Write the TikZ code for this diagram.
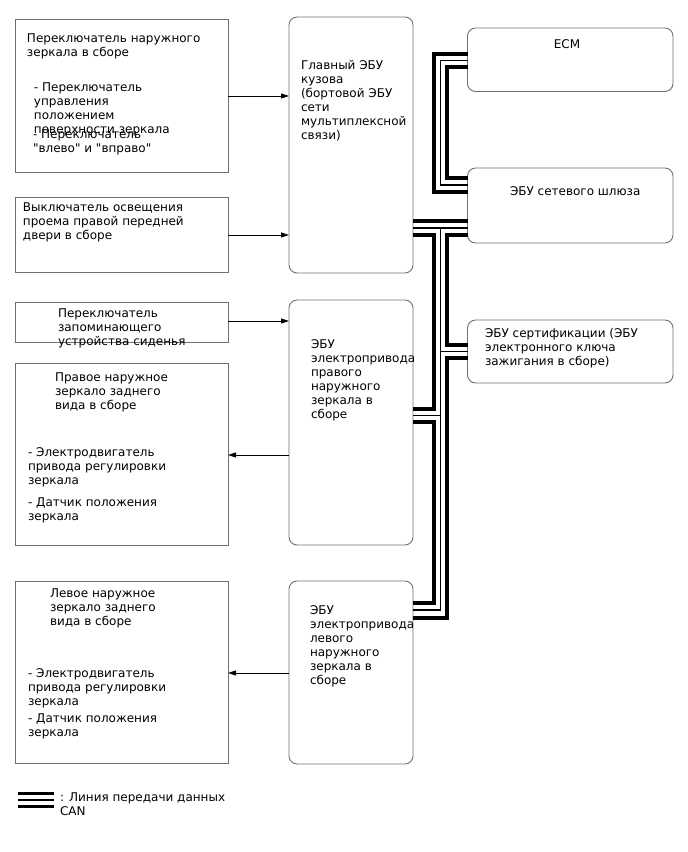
\documentclass[tikz,border=0pt]{standalone}
\usepackage{fontspec}
\setmainfont{DejaVu Sans}
\usetikzlibrary{arrows.meta}
\definecolor{bordergray}{RGB}{112,112,112}
\begin{document}
\begin{tikzpicture}[x=1pt,y=-1pt,
  box/.style={draw=bordergray, line width=0.9pt, inner sep=0pt, outer sep=0pt},
  ecu/.style={box, rounded corners=8pt},
  txt/.style={font=\fontsize{12}{14}\selectfont, align=left, inner sep=0pt, outer sep=0pt, anchor=base west},
  arr/.style={line width=0.8pt, -{Triangle[length=8pt,width=5pt]}},
  canthick/.style={line width=4pt, line join=miter},
  canthin/.style={line width=1.4pt, line join=miter}]
\useasboundingbox (0,0) rectangle (688,852);

% boxes
\node[box, minimum width=213pt, minimum height=153pt] (b1) at (121.5,95.5) {};
\node[box, minimum width=213pt, minimum height=75pt] (b2) at (121.5,234.5) {};
\node[box, minimum width=213pt, minimum height=40pt] (b3) at (121.5,322) {};
\node[box, minimum width=213pt, minimum height=182pt] (b4) at (121.5,454) {};
\node[box, minimum width=213pt, minimum height=182pt] (b5) at (121.5,672) {};
\node[ecu, minimum width=124pt, minimum height=256pt] (main) at (351,145) {};
\node[ecu, minimum width=124pt, minimum height=245pt] (rm) at (351,422.5) {};
\node[ecu, minimum width=124pt, minimum height=183pt] (lm) at (351,672.5) {};
\node[ecu, minimum width=205.5pt, minimum height=63.5pt] (ecm) at (570.25,59.75) {};
\node[ecu, minimum width=205.5pt, minimum height=75pt] (gw) at (570.25,205.5) {};
\node[ecu, minimum width=205.5pt, minimum height=63pt] (cert) at (570.25,351.5) {};

% texts (anchor = baseline of the last line)
\node[txt] (tb1a) at (27,56.5) {Переключатель наружного\\зеркала в сборе};
\node[txt] (tb1b) at (34,133.5) {- Переключатель\\управления\\положением\\поверхности зеркала};
\node[txt] (tb1c) at (33,152.5) {- Переключатель\\\textquotedbl влево\textquotedbl{} и \textquotedbl вправо\textquotedbl};
\node[txt] (tb2) at (23,239.5) {Выключатель освещения\\проема правой передней\\двери в сборе};
\node[txt] (tb3) at (58,345.5) {Переключатель\\запоминающего\\устройства сиденья};
\node[txt] (tb4a) at (55,409.5) {Правое наружное\\зеркало заднего\\вида в сборе};
\node[txt] (tb4b) at (28,484.5) {- Электродвигатель\\привода регулировки\\зеркала};
\node[txt] (tb4c) at (28,520.5) {- Датчик положения\\зеркала};
\node[txt] (tb5a) at (50,625.5) {Левое наружное\\зеркало заднего\\вида в сборе};
\node[txt] (tb5b) at (28,705.5) {- Электродвигатель\\привода регулировки\\зеркала};
\node[txt] (tb5c) at (28,736.5) {- Датчик положения\\зеркала};
\node[txt] (tmain) at (301,139.5) {Главный ЭБУ\\кузова\\(бортовой ЭБУ\\сети\\мультиплексной\\связи)};
\node[txt] (trm) at (311,418.5) {ЭБУ\\электропривода\\правого\\наружного\\зеркала в\\сборе};
\node[txt] (tlm) at (310,684.5) {ЭБУ\\электропривода\\левого\\наружного\\зеркала в\\сборе};
\node[txt, anchor=base] (tecm) at (567,48.5) {ECM};
\node[txt] (tgw) at (510,195.5) {ЭБУ сетевого шлюза};
\node[txt] (tcert) at (485,365.5) {ЭБУ сертификации (ЭБУ\\электронного ключа\\зажигания в сборе)};
\node[txt] (tleg) at (60,815.5) {: Линия передачи данных\\CAN};

% arrows
\draw[arr] (b1.east |- 0,96) -- (main.west |- 0,96);
\draw[arr] (b2.east |- 0,235) -- (main.west |- 0,235);
\draw[arr] (b3.east |- 0,321) -- (rm.west |- 0,321);
\draw[arr] (rm.west |- 0,455) -- (b4.east |- 0,455);
\draw[arr] (lm.west |- 0,673) -- (b5.east |- 0,673);

% CAN: ECM - gateway
\draw[canthick] (ecm.west |- 0,53.5) -- (433.6,53.5) -- (433.6,192) -- (gw.west |- 0,192);
\draw[canthin] (ecm.west |- 0,60.3) -- (440.3,60.3) -- (440.3,184.8) -- (gw.west |- 0,184.8);
\draw[canthick] (ecm.west |- 0,67) -- (447,67) -- (447,178) -- (gw.west |- 0,178);

% CAN: main bus
\draw[canthick] (main.east |- 0,221.3) -- (gw.west |- 0,221.3);
\draw[canthin] (main.east |- 0,228) -- (gw.west |- 0,228);
\draw[canthin] (440.3,228) -- (440.3,609.8) -- (lm.east |- 0,609.8);
\draw[canthin] (440.3,351.2) -- (cert.west |- 0,351.2);
\draw[canthin] (rm.east |- 0,415.6) -- (440.3,415.6);
\draw[canthick] (main.east |- 0,234.7) -- (433.6,234.7) -- (433.6,408.7) -- (rm.east |- 0,408.7);
\draw[canthick] (gw.west |- 0,234.7) -- (447,234.7) -- (447,344.7) -- (cert.west |- 0,344.7);
\draw[canthick] (cert.west |- 0,357.6) -- (447,357.6) -- (447,617.5) -- (lm.east |- 0,617.5);
\draw[canthick] (rm.east |- 0,422.4) -- (433.6,422.4) -- (433.6,603.4) -- (lm.east |- 0,603.4);

% legend
\draw[line width=3.4pt] (18.3,793.3) -- (54,793.3);
\draw[line width=2.2pt] (18.3,800.3) -- (54,800.3);
\draw[line width=3.4pt] (18.3,806.7) -- (54,806.7);
\end{tikzpicture}
\end{document}
